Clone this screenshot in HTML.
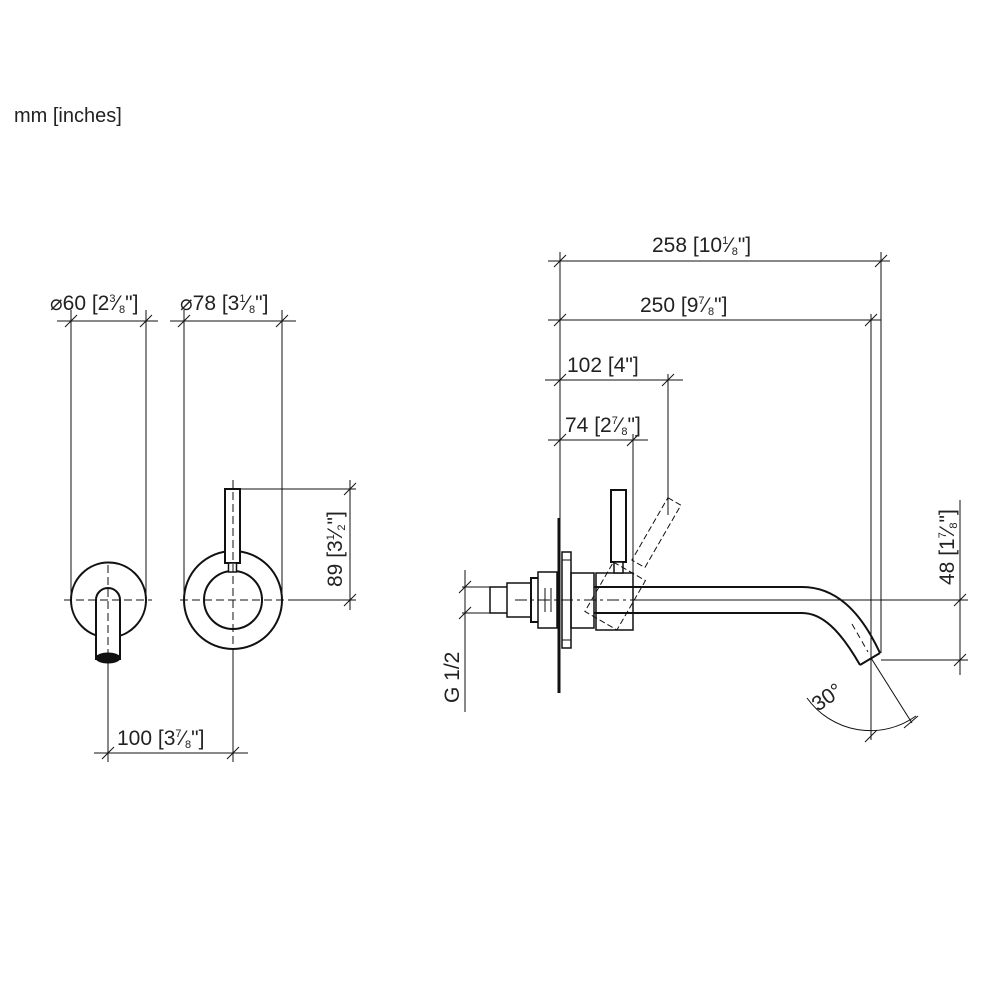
<!DOCTYPE html>
<html><head><style>
html,body{margin:0;padding:0;background:#fff;}
svg{display:block;}
text{font-family:"Liberation Sans",sans-serif;fill:#222;}
</style></head><body>
<svg width="1000" height="1000" viewBox="0 0 1000 1000" xmlns="http://www.w3.org/2000/svg">
<text x="14" y="122" font-size="20">mm [inches]</text>
<g stroke="#111" fill="none" stroke-width="1">
<line x1="71" y1="310" x2="71" y2="600"/><line x1="146" y1="310" x2="146" y2="600"/>
<line x1="57" y1="321" x2="158" y2="321"/>
<line x1="65" y1="327" x2="77" y2="315"/><line x1="140" y1="327" x2="152" y2="315"/>
<circle cx="108.5" cy="600" r="37.5" stroke-width="2" fill="#fff"/>
<path d="M96,660 V600 A12,12 0 0 1 120,600 V660" stroke-width="2" fill="#fff"/>
<ellipse cx="108" cy="658" rx="12" ry="5" fill="#111"/>
<line x1="64" y1="600" x2="152" y2="600" stroke-dasharray="8,4"/>
<line x1="108" y1="565" x2="108" y2="660" stroke-dasharray="8,4"/>
<line x1="108" y1="662" x2="108" y2="762"/>
<line x1="184" y1="310" x2="184" y2="600"/><line x1="282" y1="310" x2="282" y2="600"/>
<line x1="170" y1="321" x2="296" y2="321"/>
<line x1="178" y1="327" x2="190" y2="315"/><line x1="276" y1="327" x2="288" y2="315"/>
<circle cx="233" cy="600" r="49" stroke-width="2" fill="#fff"/>
<circle cx="233" cy="600" r="29" stroke-width="2"/>
<rect x="225" y="489" width="15" height="74" stroke-width="2" fill="#fff"/>
<rect x="228.5" y="563" width="8" height="9" stroke-width="1.5" fill="#fff"/>
<line x1="233" y1="480" x2="233" y2="650" stroke-dasharray="8,4"/>
<line x1="180" y1="600" x2="290" y2="600" stroke-dasharray="8,4"/>
<line x1="290" y1="600" x2="356" y2="600"/>
<line x1="240" y1="489" x2="356" y2="489"/>
<line x1="350" y1="480" x2="350" y2="610"/>
<line x1="344" y1="495" x2="356" y2="483"/><line x1="344" y1="606" x2="356" y2="594"/>
<line x1="233" y1="650" x2="233" y2="762"/>
<line x1="94" y1="753" x2="248" y2="753"/>
<line x1="102" y1="759" x2="114" y2="747"/><line x1="227" y1="759" x2="239" y2="747"/>
<line x1="560" y1="252" x2="560" y2="518"/>
<line x1="548" y1="261" x2="890" y2="261"/>
<line x1="554" y1="267" x2="566" y2="255"/><line x1="875" y1="267" x2="887" y2="255"/>
<line x1="548" y1="320" x2="881" y2="320"/>
<line x1="554" y1="326" x2="566" y2="314"/><line x1="865" y1="326" x2="877" y2="314"/>
<line x1="545" y1="380" x2="683" y2="380"/>
<line x1="554" y1="386" x2="566" y2="374"/><line x1="662" y1="386" x2="674" y2="374"/>
<line x1="548" y1="440" x2="648" y2="440"/>
<line x1="554" y1="446" x2="566" y2="434"/><line x1="627" y1="446" x2="639" y2="434"/>
<line x1="668" y1="374" x2="668" y2="515"/>
<line x1="633" y1="434" x2="633" y2="580"/>
<line x1="881" y1="252" x2="881" y2="653"/>
<line x1="871" y1="314" x2="871" y2="740"/>
<line x1="559" y1="518" x2="559" y2="693" stroke-width="3"/>
<rect x="562" y="552" width="9" height="96" stroke-width="1.5"/>
<line x1="562" y1="560" x2="571" y2="560"/><line x1="562" y1="640" x2="571" y2="640"/>
<rect x="490" y="587" width="18" height="26" stroke-width="1.5" fill="#fff"/>
<rect x="507" y="583" width="26" height="34" stroke-width="1.5" fill="#fff"/>
<rect x="531" y="578" width="8" height="44" stroke-width="2" fill="#fff"/>
<rect x="538" y="572" width="19" height="56" stroke-width="1.5" fill="#fff"/>
<line x1="545" y1="588" x2="545" y2="612"/><line x1="551" y1="588" x2="551" y2="612"/>
<rect x="571" y="573" width="23" height="55" stroke-width="1.5"/>
<rect x="596" y="573" width="37" height="57" stroke-width="1.5" fill="#fff"/>
<rect x="611" y="490" width="15" height="72" stroke-width="2" fill="#fff"/>
<rect x="614" y="562" width="9" height="11" stroke-width="1.5" fill="#fff"/>
<g transform="rotate(30 625 600)" stroke-dasharray="6,3">
<rect x="611" y="490" width="15" height="72"/>
<rect x="596" y="573" width="37" height="57"/>
</g>
<path d="M594,587 H802 C835,587 860,610 880,653" stroke-width="2"/>
<path d="M594,613 H802 C822,613 840,630 860,665" stroke-width="2"/>
<line x1="860" y1="665" x2="880" y2="653" stroke-width="2"/>
<line x1="515" y1="600" x2="870" y2="600" stroke-dasharray="12,4,3,4"/>
<line x1="852" y1="624" x2="868" y2="652" stroke-dasharray="6,4"/>
<line x1="632" y1="600" x2="968" y2="600"/>
<line x1="881" y1="660" x2="968" y2="660"/>
<line x1="960" y1="500" x2="960" y2="675"/>
<line x1="954" y1="606" x2="966" y2="594"/><line x1="954" y1="666" x2="966" y2="654"/>
<line x1="462" y1="587" x2="490" y2="587"/><line x1="462" y1="613" x2="490" y2="613"/>
<line x1="465" y1="570" x2="465" y2="712"/>
<line x1="459" y1="593" x2="471" y2="581"/><line x1="459" y1="619" x2="471" y2="607"/>
<line x1="871" y1="658" x2="912" y2="723"/>
<path d="M807,698 A78,78 0 0 0 916,716"/>
<line x1="865" y1="742" x2="877" y2="730"/><line x1="904" y1="728" x2="918" y2="716"/>
</g>
<g font-size="21">
<text x="50" y="310">⌀60 [2<tspan font-size="11" dy="-8">3</tspan><tspan dy="8">⁄</tspan><tspan font-size="11" dy="3">8</tspan><tspan dy="-3">"]</tspan></text>
<text x="180" y="310">⌀78 [3<tspan font-size="11" dy="-8">1</tspan><tspan dy="8">⁄</tspan><tspan font-size="11" dy="3">8</tspan><tspan dy="-3">"]</tspan></text>
<text x="117" y="745">100 [3<tspan font-size="11" dy="-8">7</tspan><tspan dy="8">⁄</tspan><tspan font-size="11" dy="3">8</tspan><tspan dy="-3">"]</tspan></text>
<text transform="translate(342,587) rotate(-90)">89 [3<tspan font-size="11" dy="-8">1</tspan><tspan dy="8">⁄</tspan><tspan font-size="11" dy="3">2</tspan><tspan dy="-3">"]</tspan></text>
<text x="652" y="252">258 [10<tspan font-size="11" dy="-8">1</tspan><tspan dy="8">⁄</tspan><tspan font-size="11" dy="3">8</tspan><tspan dy="-3">"]</tspan></text>
<text x="640" y="312">250 [9<tspan font-size="11" dy="-8">7</tspan><tspan dy="8">⁄</tspan><tspan font-size="11" dy="3">8</tspan><tspan dy="-3">"]</tspan></text>
<text x="567" y="372">102 [4"]</text>
<text x="565" y="432">74 [2<tspan font-size="11" dy="-8">7</tspan><tspan dy="8">⁄</tspan><tspan font-size="11" dy="3">8</tspan><tspan dy="-3">"]</tspan></text>
<text transform="translate(954,585) rotate(-90)">48 [1<tspan font-size="11" dy="-8">7</tspan><tspan dy="8">⁄</tspan><tspan font-size="11" dy="3">8</tspan><tspan dy="-3">"]</tspan></text>
<text transform="translate(459,703) rotate(-90)">G 1/2</text>
<text transform="translate(818,712) rotate(-35)">30°</text>
</g>
</svg>
</body></html>
